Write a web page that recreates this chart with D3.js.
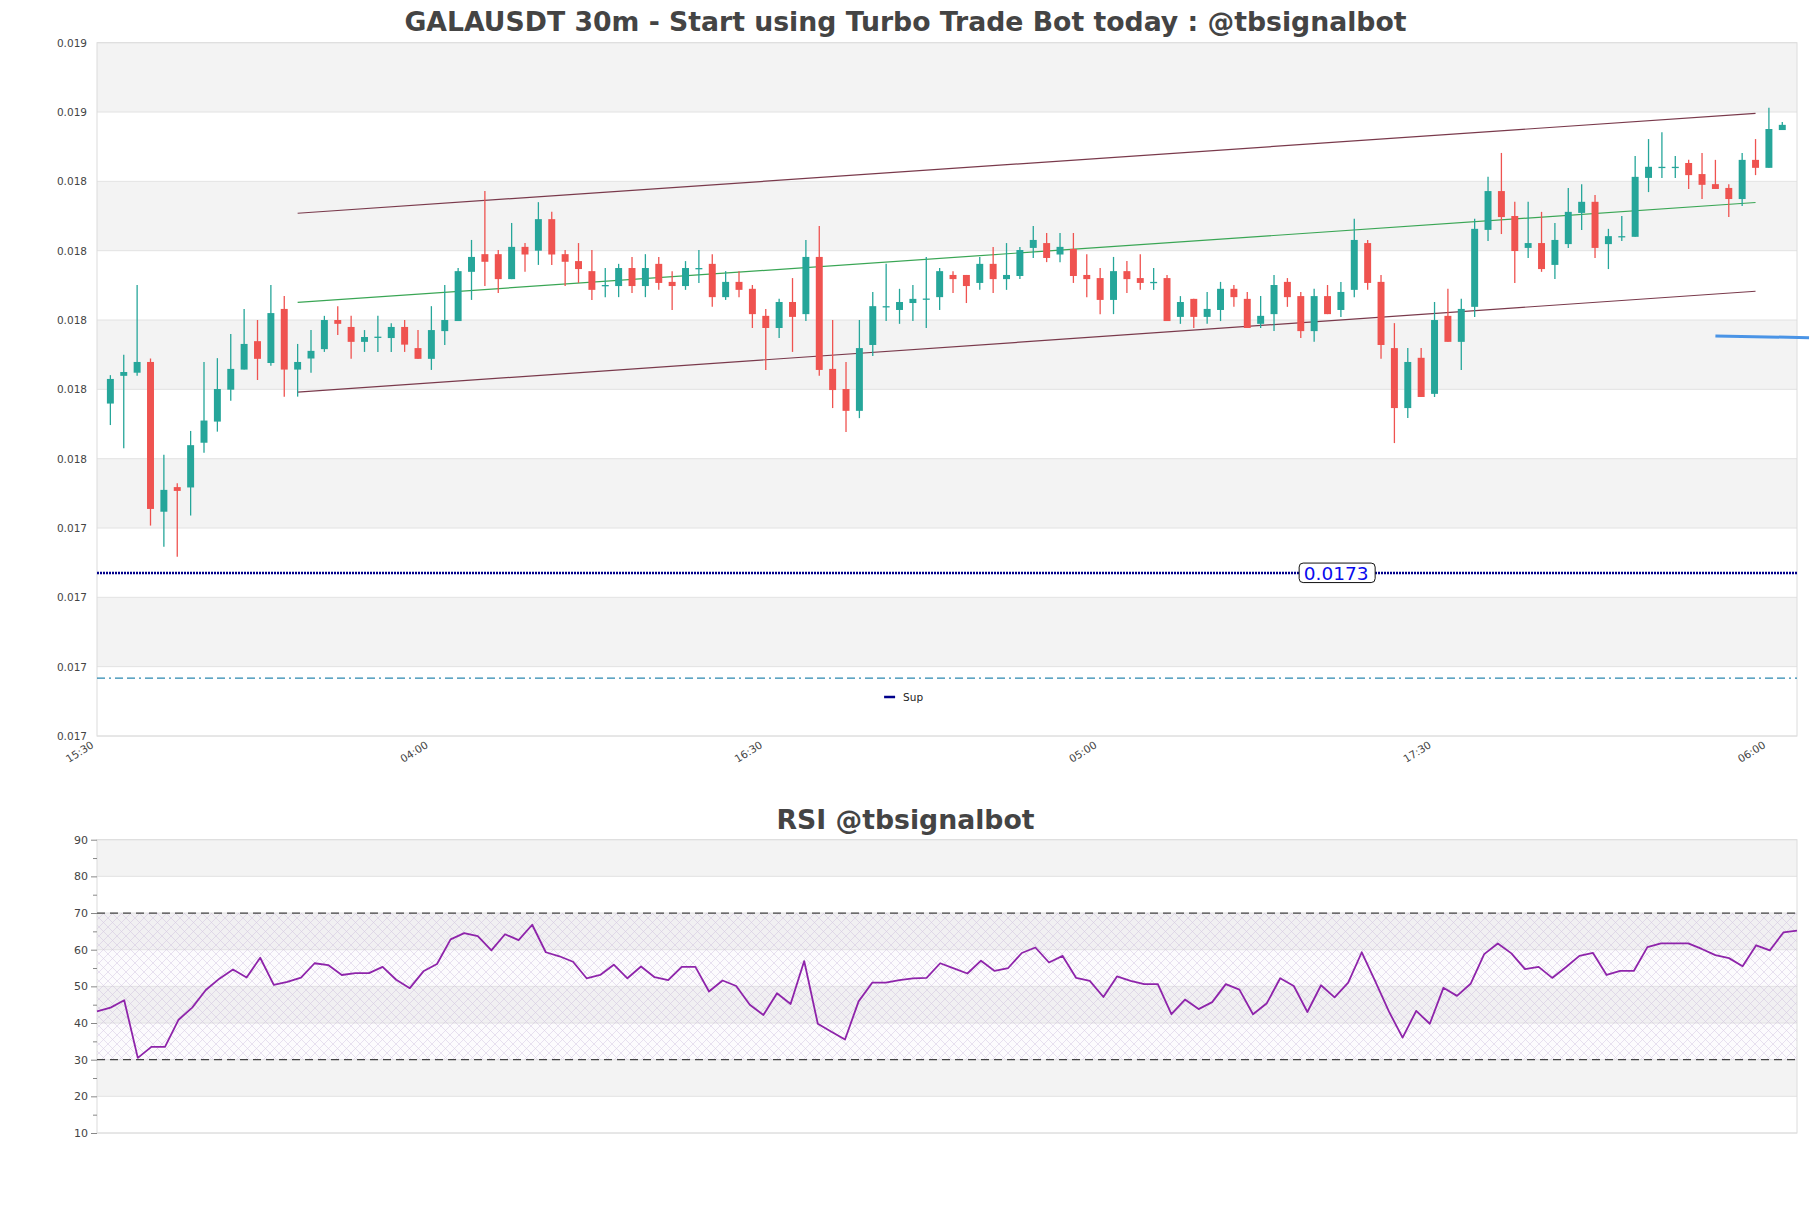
<!DOCTYPE html>
<html><head><meta charset="utf-8">
<script src="https://cdn.jsdelivr.net/npm/d3@7"></script>
<style>body{margin:0;background:#fff}svg{display:block}text{font-family:"DejaVu Sans",sans-serif}</style>
</head><body><svg id="c" width="1811" height="1208"></svg>
<script>
const title = "GALAUSDT 30m - Start using Turbo Trade Bot today : @tbsignalbot";
const rsiTitle = "RSI @tbsignalbot";
const firstCandle = "2024-01-01T16:00:00";
const tickLabels = ["15:30","04:00","16:30","05:00","17:30","06:00"];
const priceTicks = [0.01683,0.01703,0.01723,0.01743,0.01763,0.01783,0.01803,0.01823,0.01843,0.01863,0.01883];
const rsiTicks = [10,20,30,40,50,60,70,80,90];
const rsiMinorTicks = [15,25,35,45,55,65,75,85];

const open = [0.017789,0.017869,0.017878,0.017909,0.017477,0.017548,0.017547,0.017676,0.017737,0.017829,
0.017887,0.017969,0.017906,0.018062,0.017887,0.017919,0.017946,0.018030,0.018010,0.017967,
0.017979,0.017978,0.018010,0.017949,0.017918,0.017998,0.018027,0.018169,0.018220,0.018220,
0.018148,0.018241,0.018230,0.018321,0.018220,0.018200,0.018171,0.018128,0.018128,0.018180,
0.018128,0.018192,0.018140,0.018128,0.018177,0.018192,0.018096,0.018140,0.018120,0.018042,
0.018007,0.018082,0.018047,0.018212,0.017889,0.017831,0.017768,0.017958,0.018068,0.018059,
0.018079,0.018090,0.018096,0.018160,0.018160,0.018137,0.018192,0.018148,0.018157,0.018238,
0.018252,0.018219,0.018235,0.018160,0.018151,0.018088,0.018171,0.018151,0.018138,0.018151,
0.018039,0.018091,0.018039,0.018059,0.018120,0.018091,0.018019,0.018047,0.018140,0.018099,
0.017998,0.018099,0.018059,0.018117,0.018252,0.018140,0.017949,0.017776,0.017921,0.017817,
0.018042,0.017967,0.018068,0.018290,0.018402,0.018330,0.018238,0.018252,0.018189,0.018249,
0.018339,0.018371,0.018249,0.018270,0.018270,0.018440,0.018469,0.018469,0.018483,0.018451,
0.018422,0.018411,0.018379,0.018492,0.018469,0.018578];
const high = [0.017871,0.017930,0.018131,0.017919,0.017641,0.017559,0.017710,0.017909,0.017920,0.017990,
0.018062,0.018030,0.018131,0.018099,0.017961,0.018001,0.018042,0.018070,0.018042,0.018001,
0.018042,0.018021,0.018030,0.018001,0.018070,0.018131,0.018180,0.018261,0.018402,0.018232,
0.018310,0.018252,0.018370,0.018342,0.018232,0.018252,0.018232,0.018180,0.018192,0.018212,
0.018220,0.018212,0.018171,0.018200,0.018232,0.018220,0.018171,0.018171,0.018131,0.018062,
0.018091,0.018151,0.018261,0.018301,0.018030,0.017909,0.018030,0.018111,0.018192,0.018120,
0.018131,0.018212,0.018180,0.018171,0.018160,0.018212,0.018241,0.018252,0.018241,0.018301,
0.018281,0.018281,0.018281,0.018220,0.018180,0.018212,0.018200,0.018220,0.018180,0.018160,
0.018099,0.018091,0.018111,0.018140,0.018131,0.018111,0.018099,0.018160,0.018151,0.018111,
0.018120,0.018131,0.018140,0.018322,0.018261,0.018160,0.018021,0.017949,0.017949,0.018082,
0.018120,0.018091,0.018322,0.018443,0.018512,0.018371,0.018371,0.018342,0.018310,0.018411,
0.018422,0.018391,0.018293,0.018330,0.018503,0.018552,0.018572,0.018503,0.018492,0.018512,
0.018492,0.018422,0.018512,0.018552,0.018642,0.018601];
const low = [0.017727,0.017660,0.017869,0.017437,0.017376,0.017347,0.017466,0.017647,0.017708,0.017797,
0.017887,0.017857,0.017898,0.017809,0.017809,0.017878,0.017938,0.017987,0.017918,0.017938,
0.017938,0.017938,0.017938,0.017918,0.017886,0.017958,0.018027,0.018088,0.018128,0.018108,
0.018148,0.018169,0.018189,0.018189,0.018128,0.018137,0.018088,0.018096,0.018096,0.018108,
0.018096,0.018117,0.018059,0.018117,0.018137,0.018068,0.018088,0.018096,0.018007,0.017886,
0.017978,0.017938,0.018027,0.017869,0.017776,0.017707,0.017747,0.017926,0.018027,0.018019,
0.018027,0.018007,0.018059,0.018108,0.018079,0.018117,0.018108,0.018117,0.018148,0.018209,
0.018197,0.018197,0.018137,0.018096,0.018047,0.018047,0.018108,0.018117,0.018117,0.018027,
0.018019,0.018007,0.018019,0.018027,0.018068,0.018007,0.018007,0.017998,0.018068,0.017978,
0.017967,0.018047,0.018039,0.018096,0.018117,0.017918,0.017675,0.017747,0.017808,0.017808,
0.017967,0.017886,0.018039,0.018258,0.018278,0.018137,0.018209,0.018169,0.018148,0.018238,
0.018290,0.018209,0.018177,0.018258,0.018270,0.018399,0.018440,0.018440,0.018408,0.018379,
0.018408,0.018327,0.018359,0.018448,0.018469,0.018578];
const close = [0.017860,0.017880,0.017909,0.017485,0.017540,0.017537,0.017669,0.017740,0.017831,0.017889,
0.017961,0.017918,0.018050,0.017887,0.017909,0.017941,0.018030,0.018019,0.017967,0.017981,
0.017982,0.018010,0.017959,0.017918,0.018001,0.018030,0.018171,0.018212,0.018198,0.018148,
0.018241,0.018219,0.018321,0.018219,0.018198,0.018177,0.018117,0.018131,0.018180,0.018128,
0.018180,0.018137,0.018128,0.018180,0.018180,0.018096,0.018140,0.018117,0.018047,0.018007,
0.018082,0.018039,0.018212,0.017886,0.017828,0.017768,0.017949,0.018070,0.018070,0.018082,
0.018091,0.018092,0.018171,0.018148,0.018128,0.018192,0.018148,0.018160,0.018232,0.018261,
0.018209,0.018241,0.018157,0.018148,0.018088,0.018171,0.018148,0.018137,0.018140,0.018027,
0.018082,0.018039,0.018062,0.018120,0.018096,0.018007,0.018042,0.018131,0.018096,0.017998,
0.018099,0.018047,0.018111,0.018261,0.018137,0.017958,0.017776,0.017909,0.017808,0.018030,
0.017967,0.018062,0.018293,0.018402,0.018327,0.018229,0.018252,0.018177,0.018261,0.018342,
0.018371,0.018238,0.018272,0.018272,0.018443,0.018472,0.018472,0.018472,0.018448,0.018420,
0.018408,0.018379,0.018492,0.018469,0.018581,0.018593];
const rsi = [43.2,44.2,46.2,30.5,33.5,33.5,40.9,44.2,49.0,52.1,
54.6,52.4,57.8,50.4,51.2,52.4,56.3,55.8,53.1,53.6,
53.6,55.3,51.8,49.5,54.1,56.1,62.8,64.5,63.7,59.8,
64.2,62.6,66.8,59.3,58.2,56.7,52.2,53.1,55.9,52.2,
55.4,52.5,51.7,55.3,55.3,48.6,51.6,50.1,45.0,42.2,
48.1,45.2,56.9,39.8,37.6,35.5,45.9,51.0,51.0,51.7,
52.2,52.3,56.3,54.9,53.5,57.0,54.2,55.0,59.1,60.6,
56.5,58.3,52.3,51.5,47.1,52.7,51.5,50.6,50.6,42.4,
46.4,43.8,45.7,50.6,49.1,42.4,45.3,52.2,50.1,43.0,
50.3,47.0,51.0,59.3,51.3,43.1,36.0,43.3,39.8,49.6,
47.4,50.7,58.8,61.7,59.0,54.7,55.3,52.3,55.2,58.3,
59.1,53.1,54.2,54.2,60.7,61.7,61.7,61.7,60.2,58.5,
57.7,55.5,61.2,59.8,64.7,65.2];

// channel (candle index 0-based start/end) and levels
const channelIdx = [14, 123];
const channelUpper = [0.018338, 0.018626];
const channelMid = [0.018081, 0.018369];
const channelLower = [0.017822, 0.018113];
const supLevel = 0.0173;
const supLabel = "0.0173";
const dashLevel = 0.016997;
const shortLineIdx = [120, 127];
const shortLineVals = [0.017984, 0.017979];
const rsiLevels = [70, 30];

const svg = d3.select("#c");
const W = 1811;
const P = {l:97, r:1797, t:42.7, b:736};
const R = {t:839.7, b:1133};
const STEP = 30*60000;
const t0 = new Date(firstCandle);
const tAt = i => new Date(+t0 + i*STEP);

const x = d3.scaleTime().domain([tAt(-1), tAt(126.1)]).range([P.l, P.r]);
const y = d3.scaleLinear().domain([priceTicks[0], priceTicks[priceTicks.length-1]]).range([P.b, P.t]);
const xr = d3.scaleTime().domain([tAt(0), tAt(rsi.length-1)]).range([P.l, P.r]);
const yr = d3.scaleLinear().domain([10, 90]).range([R.b, R.t]);

// titles
svg.append("text").attr("x", W/2).attr("y", 31).attr("text-anchor","middle")
  .attr("font-size", 26.7).attr("font-weight","bold").attr("fill","#444").text(title);
svg.append("text").attr("x", W/2).attr("y", 829).attr("text-anchor","middle")
  .attr("font-size", 26.7).attr("font-weight","bold").attr("fill","#444").text(rsiTitle);

// main bands
const gMain = svg.append("g");
for (let i=0;i<priceTicks.length-1;i++){
  gMain.append("rect").attr("x",P.l).attr("width",P.r-P.l)
    .attr("y", y(priceTicks[i+1])).attr("height", y(priceTicks[i])-y(priceTicks[i+1]))
    .attr("fill", i%2===1 ? "#f3f3f3" : "#ffffff");
}
gMain.selectAll("line.grid").data(priceTicks).join("line").attr("class","grid")
  .attr("x1",P.l).attr("x2",P.r).attr("y1",d=>y(d)).attr("y2",d=>y(d))
  .attr("stroke","#e2e2e2").attr("stroke-width",1);
gMain.append("rect").attr("x",P.l).attr("y",P.t).attr("width",P.r-P.l).attr("height",P.b-P.t)
  .attr("fill","none").attr("stroke","#dcdcdc").attr("stroke-width",1);

// y labels
const fmt = d3.format(".3f");
const yAxis = d3.axisLeft(y).tickValues(priceTicks).tickFormat(fmt).tickSize(0).tickPadding(10);
const gy = svg.append("g").attr("transform",`translate(${P.l},0)`).call(yAxis);
gy.select(".domain").remove();
gy.selectAll("text").attr("font-size",10.5).attr("fill","#444").attr("font-family","DejaVu Sans");

// x labels
const xTicks = tickLabels.map((_,k)=>tAt(-1 + k*25));
const xAxis = d3.axisBottom(x).tickValues(xTicks).tickFormat((d,i)=>tickLabels[i]).tickSize(0);
const gx = svg.append("g").attr("transform",`translate(0,${P.b})`).call(xAxis);
gx.select(".domain").remove();
gx.selectAll("text").attr("font-size",10.5).attr("fill","#444").attr("font-family","DejaVu Sans")
  .attr("text-anchor","end").attr("dy",0).attr("y",0)
  .attr("transform","translate(-3,11) rotate(-32)");

// dashed level
svg.append("line").attr("x1",P.l).attr("x2",P.r).attr("y1",y(dashLevel)).attr("y2",y(dashLevel))
  .attr("stroke","#2a88b0").attr("stroke-width",1.2).attr("stroke-dasharray","8,4,2,4,8,4");

// support dotted line
svg.append("line").attr("x1",P.l).attr("x2",P.r).attr("y1",y(supLevel)).attr("y2",y(supLevel))
  .attr("stroke","#00008b").attr("stroke-width",2.4).attr("stroke-dasharray","2,1");

// channel lines
const chan = [[channelUpper,"#7a3a4c"],[channelMid,"#3aa655"],[channelLower,"#7a3a4c"]];
chan.forEach(([v,c])=>{
  svg.append("line").attr("x1",x(tAt(channelIdx[0]))).attr("x2",x(tAt(channelIdx[1])))
    .attr("y1",y(v[0])).attr("y2",y(v[1])).attr("stroke",c).attr("stroke-width",1.2);
});

// candles
const candles = open.map((o,i)=>({t:tAt(i),o,h:high[i],l:low[i],c:close[i]}));
const bw = (x(tAt(1))-x(tAt(0)))*0.52;
const gC = svg.append("g");
gC.selectAll("line.w").data(candles).join("line").attr("class","w")
  .attr("x1",d=>x(d.t)).attr("x2",d=>x(d.t)).attr("y1",d=>y(d.h)).attr("y2",d=>y(d.l))
  .attr("stroke",d=>d.c>=d.o?"#26a69a":"#ef5350").attr("stroke-width",1.3);
gC.selectAll("rect.b").data(candles).join("rect").attr("class","b")
  .attr("x",d=>x(d.t)-bw/2).attr("width",bw)
  .attr("y",d=>y(Math.max(d.o,d.c)))
  .attr("height",d=>Math.max(1.3, Math.abs(y(d.o)-y(d.c))))
  .attr("fill",d=>d.c>=d.o?"#26a69a":"#ef5350");

// short light-blue line
svg.append("line").attr("x1",x(tAt(shortLineIdx[0]))).attr("x2",x(tAt(shortLineIdx[1])))
  .attr("y1",y(shortLineVals[0])).attr("y2",y(shortLineVals[1]))
  .attr("stroke","#4a94e6").attr("stroke-width",3);

// support label
const lx = P.l + (P.r-P.l)*0.7295, ly = y(supLevel);
svg.append("rect").attr("x",lx-38).attr("y",ly-10).attr("width",76).attr("height",19.5).attr("rx",4)
  .attr("fill","#fff").attr("stroke","#111").attr("stroke-width",1);
svg.append("text").attr("x",lx-1).attr("y",ly+6.5).attr("text-anchor","middle")
  .attr("font-size",18.5).attr("fill","#0a0aee").text(supLabel);

// legend
const lgx = P.l + (P.r-P.l)*0.463, lgy = 697;
svg.append("line").attr("x1",lgx).attr("x2",lgx+11).attr("y1",lgy).attr("y2",lgy)
  .attr("stroke","#00008b").attr("stroke-width",2.5);
svg.append("text").attr("x",lgx+19).attr("y",lgy+3.8).attr("font-size",10.5).attr("fill","#222").text("Sup");

// ================= RSI =================
const defs = svg.append("defs");
const pat = defs.append("pattern").attr("id","hatch").attr("patternUnits","userSpaceOnUse")
  .attr("width",9).attr("height",9);
pat.append("path").attr("d","M0,0L9,9M9,0L0,9M-1,8L1,10M8,-1L10,1")
  .attr("stroke","#b9a3cf").attr("stroke-width",0.6).attr("opacity",0.55);

const gR = svg.append("g");
for (let i=0;i<rsiTicks.length-1;i++){
  gR.append("rect").attr("x",P.l).attr("width",P.r-P.l)
    .attr("y", yr(rsiTicks[i+1])).attr("height", yr(rsiTicks[i])-yr(rsiTicks[i+1]))
    .attr("fill", i%2===1 ? "#f3f3f3" : "#ffffff");
}
gR.selectAll("line.grid").data(rsiTicks).join("line").attr("class","grid")
  .attr("x1",P.l).attr("x2",P.r).attr("y1",d=>yr(d)).attr("y2",d=>yr(d))
  .attr("stroke","#e2e2e2").attr("stroke-width",1);
gR.append("rect").attr("x",P.l).attr("width",P.r-P.l).attr("y",yr(rsiLevels[0]))
  .attr("height",yr(rsiLevels[1])-yr(rsiLevels[0])).attr("fill","url(#hatch)");
gR.append("rect").attr("x",P.l).attr("width",P.r-P.l).attr("y",yr(rsiLevels[0]))
  .attr("height",yr(rsiLevels[1])-yr(rsiLevels[0])).attr("fill","#e8dcf0").attr("opacity",0.12);
gR.append("rect").attr("x",P.l).attr("y",R.t).attr("width",P.r-P.l).attr("height",R.b-R.t)
  .attr("fill","none").attr("stroke","#dcdcdc").attr("stroke-width",1);
rsiLevels.forEach(v=>{
  gR.append("line").attr("x1",P.l).attr("x2",P.r).attr("y1",yr(v)).attr("y2",yr(v))
    .attr("stroke","#444").attr("stroke-width",1.3).attr("stroke-dasharray","8,5");
});
const rsiLine = d3.line().x((d,i)=>xr(tAt(i))).y(d=>yr(d));
gR.append("path").datum(rsi).attr("d",rsiLine).attr("fill","none")
  .attr("stroke","#8e24aa").attr("stroke-width",1.8).attr("stroke-linejoin","round");

const ryA = d3.axisLeft(yr).tickValues(rsiTicks).tickSize(6).tickPadding(3);
const gry = svg.append("g").attr("transform",`translate(${P.l},0)`).call(ryA);
gry.select(".domain").remove();
gry.selectAll("line").attr("stroke","#888");
gry.selectAll("text").attr("font-size",11).attr("fill","#444").attr("font-family","DejaVu Sans");
const ryM = d3.axisLeft(yr).tickValues(rsiMinorTicks).tickSize(4).tickFormat("");
const grm = svg.append("g").attr("transform",`translate(${P.l},0)`).call(ryM);
grm.select(".domain").remove();
grm.selectAll("line").attr("stroke","#888");
</script></body></html>
